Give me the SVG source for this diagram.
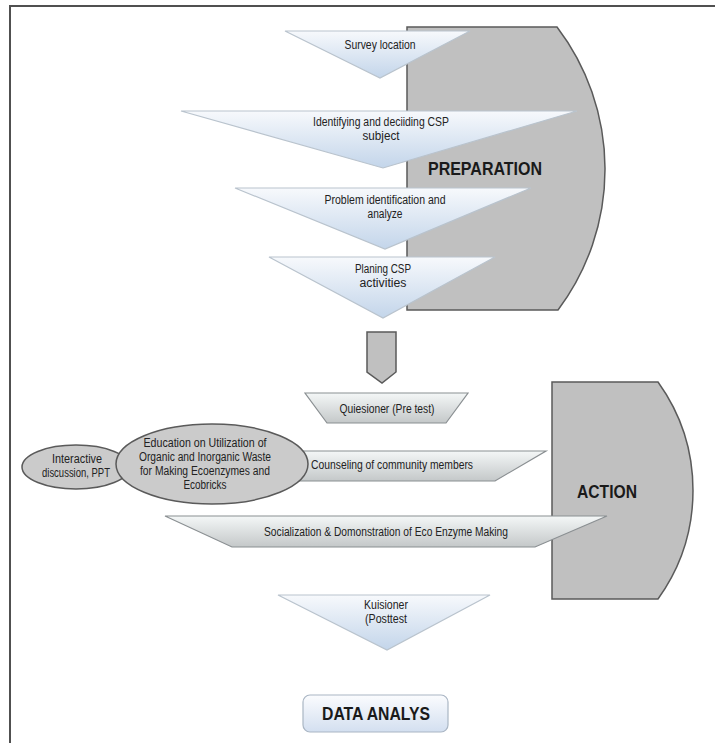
<svg xmlns="http://www.w3.org/2000/svg" width="715" height="743" viewBox="0 0 715 743">
  <defs>
    <linearGradient id="gTri" x1="0" y1="0" x2="0" y2="1">
      <stop offset="0" stop-color="#f7f9fc"/>
      <stop offset="1" stop-color="#c3d5ea"/>
    </linearGradient>
    <linearGradient id="gBar" x1="0" y1="0" x2="0" y2="1">
      <stop offset="0" stop-color="#f4f7f7"/>
      <stop offset="1" stop-color="#c4c8c9"/>
    </linearGradient>
    <linearGradient id="gBox" x1="0" y1="0" x2="0" y2="1">
      <stop offset="0" stop-color="#fbfcfe"/>
      <stop offset="1" stop-color="#d3dff0"/>
    </linearGradient>
    <style>
      .tri { fill: url(#gTri); stroke: #b9c3cd; stroke-width: 1.2; }
      .bar { fill: url(#gBar); stroke: #8a8f92; stroke-width: 1.2; }
      .phase { fill: #c0c0c0; stroke: #5a5a5a; stroke-width: 1.5; }
      .ell { fill: #cbcbcb; stroke: #5a5a5a; stroke-width: 1.5; }
      .t { font-family: "Liberation Sans", Arial, sans-serif; font-size: 12px; fill: #222; text-anchor: middle; }
      .big { font-family: "Liberation Sans", Arial, sans-serif; font-size: 18px; font-weight: bold; fill: #1a1a1a; text-anchor: middle; }
    </style>
  </defs>

  <rect x="0" y="0" width="715" height="743" fill="#ffffff"/>
  <path d="M10 743 V6 H715" fill="none" stroke="#505050" stroke-width="2"/>

  <!-- Phase shapes -->
  <g id="preparation">
    <path class="phase" d="M407 27 H557 A234.5 234.5 0 0 1 558 310 H407 Z"/>
    <text class="big" x="485" y="175" textLength="114" lengthAdjust="spacingAndGlyphs">PREPARATION</text>
  </g>
  <g id="action">
    <path class="phase" d="M552 382 H658 A185.7 185.7 0 0 1 658 599 H552 Z"/>
    <text class="big" x="607" y="498" textLength="60" lengthAdjust="spacingAndGlyphs">ACTION</text>
  </g>

  <!-- Preparation steps -->
  <g id="survey-location">
    <polygon class="tri" points="285,31 470,31 380,78"/>
    <text class="t" x="380" y="49" textLength="71" lengthAdjust="spacingAndGlyphs">Survey location</text>
  </g>
  <g id="identifying-csp">
    <polygon class="tri" points="181,111 577,111 383,168"/>
    <text class="t" x="381" y="126" textLength="136" lengthAdjust="spacingAndGlyphs">Identifying and deciiding CSP</text>
    <text class="t" x="381" y="140" textLength="37" lengthAdjust="spacingAndGlyphs">subject</text>
  </g>
  <g id="problem-identification">
    <polygon class="tri" points="235,188 531,188 385,249"/>
    <text class="t" x="385" y="204" textLength="121" lengthAdjust="spacingAndGlyphs">Problem identification and</text>
    <text class="t" x="385" y="218" textLength="35" lengthAdjust="spacingAndGlyphs">analyze</text>
  </g>
  <g id="planing-csp">
    <polygon class="tri" points="269,257 495,257 383,318"/>
    <text class="t" x="383" y="273" textLength="56" lengthAdjust="spacingAndGlyphs">Planing CSP</text>
    <text class="t" x="383" y="287" textLength="47" lengthAdjust="spacingAndGlyphs">activities</text>
  </g>

  <!-- Connectors -->
  <g id="connectors">
    <polygon class="phase" points="367,332 396,332 396,372 382,383 367,372"/>
  </g>

  <!-- Action steps -->
  <g id="quiesioner-pretest">
    <polygon class="bar" points="305,393 468,393 446,423 327,423"/>
    <text class="t" x="387" y="413" textLength="95" lengthAdjust="spacingAndGlyphs">Quiesioner (Pre test)</text>
  </g>
  <g id="counseling">
    <polygon class="bar" points="240,451 546,451 495,481 290,481"/>
    <text class="t" x="392" y="469" textLength="162" lengthAdjust="spacingAndGlyphs">Counseling of community members</text>
  </g>
  <g id="interactive-discussion">
    <ellipse class="ell" cx="76" cy="467" rx="54" ry="22"/>
    <text class="t" x="77" y="463" textLength="50" lengthAdjust="spacingAndGlyphs">Interactive</text>
    <text class="t" x="76" y="477" textLength="68" lengthAdjust="spacingAndGlyphs">discussion, PPT</text>
  </g>
  <g id="education">
    <ellipse class="ell" cx="212" cy="464" rx="96" ry="40"/>
    <text class="t" x="205" y="447" textLength="123" lengthAdjust="spacingAndGlyphs">Education on Utilization of</text>
    <text class="t" x="205" y="461" textLength="132" lengthAdjust="spacingAndGlyphs">Organic and Inorganic Waste</text>
    <text class="t" x="205" y="475" textLength="130" lengthAdjust="spacingAndGlyphs">for Making Ecoenzymes and</text>
    <text class="t" x="205" y="489" textLength="43" lengthAdjust="spacingAndGlyphs">Ecobricks</text>
  </g>
  <g id="socialization">
    <polygon class="bar" points="165,516 607,516 535,547 232,547"/>
    <text class="t" x="386" y="536" textLength="244" lengthAdjust="spacingAndGlyphs">Socialization &amp; Domonstration of Eco Enzyme Making</text>
  </g>

  <g id="kuisioner-posttest">
    <polygon class="tri" points="278,595 490,595 387,650"/>
    <text class="t" x="386" y="609" textLength="44" lengthAdjust="spacingAndGlyphs">Kuisioner</text>
    <text class="t" x="386" y="623" textLength="42" lengthAdjust="spacingAndGlyphs">(Posttest</text>
  </g>

  <g id="data-analys">
    <rect x="303" y="695" width="145" height="37" rx="7" ry="7" fill="url(#gBox)" stroke="#aab6c4" stroke-width="1.2"/>
    <text class="big" x="376" y="720" font-size="19" textLength="108" lengthAdjust="spacingAndGlyphs">DATA ANALYS</text>
  </g>
</svg>
